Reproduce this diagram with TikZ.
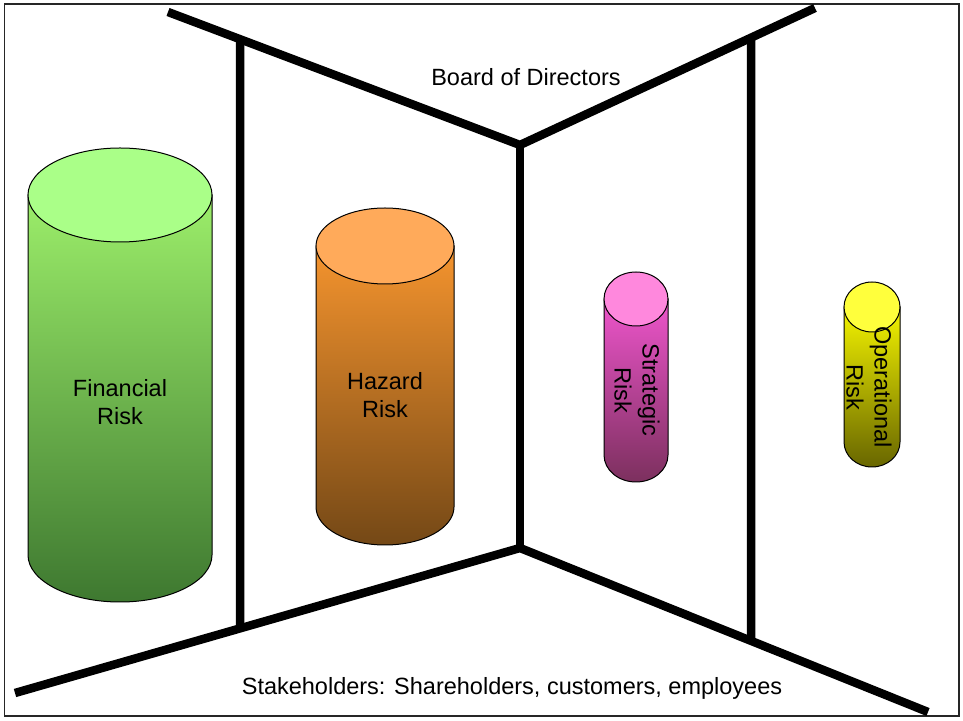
\documentclass[tikz,border=0pt]{standalone}
\usepackage{fontspec}
\setmainfont{Liberation Sans}
\usetikzlibrary{calc}

\definecolor{finCap}{HTML}{AAFF88}
\definecolor{finHi}{HTML}{9CEE6A}
\definecolor{finLo}{HTML}{3E7830}
\definecolor{hazCap}{HTML}{FFAA5A}
\definecolor{hazHi}{HTML}{F5942E}
\definecolor{hazLo}{HTML}{744816}
\definecolor{strCap}{HTML}{FF88DD}
\definecolor{strHi}{HTML}{EE55CC}
\definecolor{strLo}{HTML}{7C305E}
\definecolor{oprCap}{HTML}{FFFF3C}
\definecolor{oprHi}{HTML}{F4F400}
\definecolor{oprLo}{HTML}{686600}

% cx, y of top, y of bottom, x radius, y radius, colour prefix
\newcommand{\riskcyl}[6]{%
  \shadedraw[top color=#6Hi,bottom color=#6Lo,draw=black,line width=1pt]
    (#1-#4,#2) -- (#1-#4,#3) arc[start angle=180,end angle=360,x radius=#4pt,y radius=#5pt]
    -- (#1+#4,#2) -- cycle;
  \filldraw[fill=#6Cap,draw=black,line width=1pt] (#1,#2) ellipse[x radius=#4pt,y radius=#5pt];
}

\begin{document}
\begin{tikzpicture}[x=1pt,y=1pt]
	\tikzset{wall/.style={line width=8.5pt}}
	\tikzset{lbl/.style={align=center,font=\fontsize{23.5}{28}\selectfont}}
	\useasboundingbox (0,0) rectangle (963,720);
	\draw[line width=1.5pt,draw=black!85] (4.5,4) rectangle (959,716);

	% walls
	\coordinate (tl) at (168,708);
	\coordinate (tc) at (520,575);
	\coordinate (tr) at (815,712);
	\coordinate (bl) at (15,27);
	\coordinate (bc) at (520,172);
	\coordinate (br) at (928,8);
	\draw[wall] (tl) -- (tc) -- (tr);
	\draw[wall] (bl) -- (bc) -- (br);
	\draw[wall] (tc) -- (bc);
	\draw[wall] ($(tl)!{72/352}!(tc)$) -- ($(bl)!{225/505}!(bc)$);
	\draw[wall] ($(tc)!{231/295}!(tr)$) -- ($(bc)!{231/408}!(br)$);

	% risks
	\riskcyl{120}{525}{165}{92}{47}{fin}
	\riskcyl{385}{474}{213}{69}{38}{haz}
	\riskcyl{636}{421}{265}{32}{27}{str}
	\riskcyl{872}{413}{278}{28}{25}{opr}

	\node[lbl] (fin) at (120,318) {Financial\\Risk};
	\node[lbl] (haz) at (385,325) {Hazard\\Risk};
	\node[lbl,rotate=-90] (str) at (637,330) {Strategic\\Risk};
	\node[lbl,rotate=-90] (opr) at (869,333) {Operational\\Risk};

	\node[lbl] (board) at (526,643) {Board of Directors};
	\node[lbl] (stake) at (512,32) {Stakeholders: Shareholders, customers, employees};
\end{tikzpicture}
\end{document}
